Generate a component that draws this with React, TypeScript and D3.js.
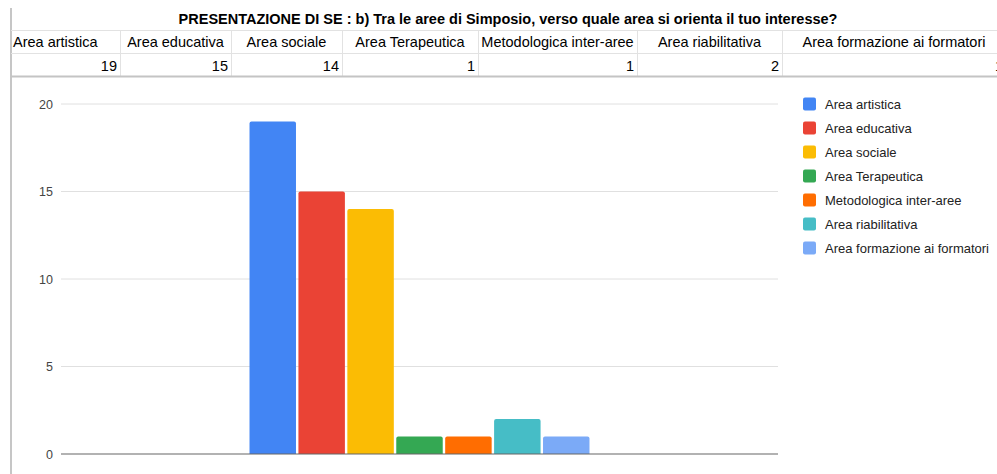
import * as d3 from 'd3';

const title = 'PRESENTAZIONE DI SE : b) Tra le aree di Simposio, verso quale area si orienta il tuo interesse?';
const categories = [
  'Area artistica',
  'Area educativa',
  'Area sociale',
  'Area Terapeutica',
  'Metodologica inter-aree',
  'Area riabilitativa',
  'Area formazione ai formatori',
];
const values = [19, 15, 14, 1, 1, 2, 1];
const colors = ['#4285F4', '#EA4335', '#FBBC04', '#34A853', '#FF6D01', '#46BDC6', '#7BAAF7'];
const yTicks = [0, 5, 10, 15, 20];

const W = 997;
const H = 474;
const FONT = 'Liberation Sans, Arial, sans-serif';

// spreadsheet column edges
const colEdges = [11, 120, 231, 342, 478, 637, 782, 1006];

export default function App() {
  const plot = { left: 61, right: 778, top: 104, bottom: 454 };

  const y = d3.scaleLinear().domain([0, 20]).range([plot.bottom, plot.top]);
  const outer = d3
    .scaleBand<string>()
    .domain(['group'])
    .range([plot.left, plot.right])
    .paddingInner(0.3567)
    .paddingOuter(0.3567);
  const inner = d3
    .scaleBand<string>()
    .domain(categories)
    .range([0, outer.bandwidth()])
    .paddingInner(0.05);
  const gx = outer('group') || 0;

  return (
    <svg
      width={W}
      height={H}
      style={{ position: 'absolute', left: 0, top: 0, background: '#fff' }}
      fontFamily={FONT}
    >
      {/* table grid */}
      <line x1={11} x2={11} y1={8} y2={H} stroke="#c6c6c6" strokeWidth={2} />
      <line x1={11} x2={W} y1={30.5} y2={30.5} stroke="#e2e2e2" />
      <line x1={11} x2={W} y1={53.5} y2={53.5} stroke="#e2e2e2" />
      {colEdges.slice(1, -1).map((x) => (
        <line key={x} x1={x + 0.5} x2={x + 0.5} y1={31} y2={76} stroke="#e2e2e2" />
      ))}
      <line x1={11} x2={W} y1={76.5} y2={76.5} stroke="#c4c4c4" strokeWidth={2} />

      <text x={508} y={24} textAnchor="middle" fontSize={14.5} fontWeight="bold" fill="#000">
        {title}
      </text>
      {categories.map((c, i) => {
        const x0 = colEdges[i];
        const x1 = colEdges[i + 1];
        return (
          <g key={c}>
            <text
              x={i === 0 ? x0 + 2 : (x0 + x1) / 2}
              y={47}
              textAnchor={i === 0 ? 'start' : 'middle'}
              fontSize={14.5}
              fill="#000"
            >
              {c}
            </text>
            <text x={x1 - 3} y={71} textAnchor="end" fontSize={14.5} fill="#000">
              {values[i]}
            </text>
          </g>
        );
      })}

      {/* gridlines */}
      {yTicks.map((t) => (
        <g key={t}>
          {t > 0 && (
            <line x1={plot.left} x2={plot.right} y1={y(t)} y2={y(t)} stroke="#e0e0e0" strokeWidth={1} />
          )}
          <text x={53} y={y(t) + 4.5} textAnchor="end" fontSize={12.5} fill="#444">
            {t}
          </text>
        </g>
      ))}

      {/* bars */}
      {categories.map((c, i) => {
        const bx = gx + (inner(c) || 0);
        const by = y(values[i]);
        const bw = inner.bandwidth();
        return (
          <path
            key={c}
            d={`M${bx},${y(0)}V${by + 2}Q${bx},${by} ${bx + 2},${by}H${bx + bw - 2}Q${bx + bw},${by} ${
              bx + bw
            },${by + 2}V${y(0)}Z`}
            fill={colors[i]}
          />
        );
      })}
      <line x1={plot.left} x2={plot.right} y1={y(0)} y2={y(0)} stroke="#666" strokeWidth={1.2} />

      {/* legend */}
      {categories.map((c, i) => (
        <g key={c} transform={`translate(803,${104 + i * 24})`}>
          <rect x={0} y={-6.5} width={13} height={13} rx={2} fill={colors[i]} />
          <text x={22} y={4.5} fontSize={13} fill="#222">
            {c}
          </text>
        </g>
      ))}
    </svg>
  );
}
